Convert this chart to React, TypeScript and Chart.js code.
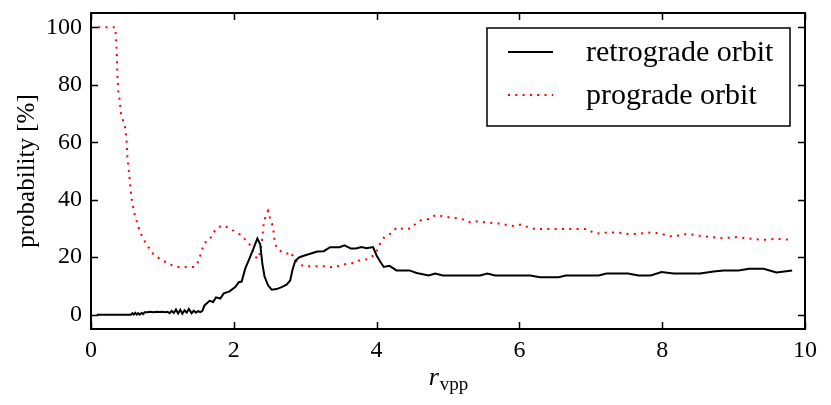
import React, { useEffect, useRef } from "react";
import { Chart, registerables } from "chart.js";
Chart.register(...registerables);

const retroX = [
  0.08, 0.56, 0.58, 0.60, 0.62, 0.64, 0.66, 0.68, 0.71, 0.73, 0.75, 0.79, 0.83, 0.88, 0.92, 0.96, 1.00,
  1.04, 1.07, 1.10, 1.13, 1.16, 1.19, 1.22, 1.25, 1.28, 1.31, 1.34, 1.37, 1.41, 1.44, 1.47, 1.50, 1.53,
  1.56, 1.59, 1.66, 1.71, 1.75, 1.81, 1.86, 1.94, 2.02, 2.07, 2.11, 2.16, 2.23, 2.27, 2.33, 2.37, 2.40,
  2.43, 2.48, 2.53, 2.60, 2.67, 2.74, 2.79, 2.82, 2.86, 2.92, 2.99, 3.07, 3.17, 3.26, 3.35, 3.48, 3.55,
  3.64, 3.71, 3.79, 3.86, 3.95, 4.00, 4.05, 4.10, 4.18, 4.28, 4.46, 4.56, 4.73, 4.82, 4.93, 5.45, 5.55,
  5.66, 6.15, 6.29, 6.55, 6.65, 7.11, 7.22, 7.52, 7.67, 7.84, 7.99, 8.16, 8.53, 8.72, 8.86, 9.07, 9.22,
  9.42, 9.60, 9.82,
];
const retroY = [
  0, 0, 0.5, 0, 0.6, 0, 0.5, 0, 0.6, 0.2, 0.8, 0.8, 1.0, 0.8, 1.0, 0.9, 1.0,
  0.8, 1.0, 0.5, 1.3, 0.6, 1.8, 0.4, 1.7, 0.3, 1.5, 0.7, 2.0, 0.5, 1.4, 0.7, 1.2, 0.9,
  1.3, 3.2, 4.8, 4.4, 6.0, 5.6, 7.4, 8.1, 9.6, 11.3, 11.5, 16.0, 20.2, 22.6, 26.5, 24.5, 17.7,
  13.3, 10.2, 8.7, 8.9, 9.6, 10.4, 11.9, 15.4, 18.7, 20.0, 20.6, 21.2, 22.0, 22.1, 23.5, 23.5, 24.1,
  23.0, 23.0, 23.5, 23.1, 23.5, 20.6, 18.5, 16.6, 17.0, 15.4, 15.4, 14.5, 13.6, 14.3, 13.6, 13.6, 14.3,
  13.6, 13.6, 13.0, 13.0, 13.6, 13.6, 14.3, 14.3, 13.6, 13.6, 14.8, 14.3, 14.3, 15.0, 15.4, 15.4, 16.0,
  16.0, 14.7, 15.4,
];

const proX = [
  0.10, 0.34, 0.36, 0.37, 0.38, 0.40, 0.42, 0.45, 0.48, 0.50, 0.51, 0.53, 0.55, 0.57, 0.61, 0.64, 0.69,
  0.77, 0.87, 0.98, 1.11, 1.19, 1.30, 1.45, 1.51, 1.54, 1.59, 1.66, 1.71, 1.77, 1.84, 1.92, 2.01, 2.09,
  2.16, 2.22, 2.26, 2.31, 2.35, 2.39, 2.42, 2.45, 2.48, 2.51, 2.55, 2.57, 2.60, 2.67, 2.74, 2.80, 2.84,
  2.90, 2.98, 3.30, 3.39, 3.48, 3.58, 3.68, 3.78, 3.88, 3.98, 4.05, 4.11, 4.21, 4.28, 4.38, 4.48, 4.55,
  4.64, 4.73, 4.83, 4.93, 5.03, 5.13, 5.22, 5.31, 5.42, 5.52, 5.62, 5.73, 5.82, 5.93, 6.03, 6.13, 6.22,
  6.94, 7.04, 7.13, 7.23, 7.33, 7.43, 7.53, 7.65, 7.75, 7.84, 7.94, 8.04, 8.14, 8.24, 8.34, 8.43, 8.54,
  8.64, 8.75, 8.85, 8.95, 9.05, 9.15, 9.26, 9.36, 9.47, 9.56, 9.67, 9.77, 9.82,
];
const proY = [
  100, 100, 92, 83, 78, 75, 70, 67.5, 65, 60, 55, 50, 45, 40, 35, 32.5, 28.5,
  24.7, 21.2, 19.1, 17.5, 16.6, 16.6, 16.6, 18.7, 21.5, 25, 26, 28.4, 30.3, 31, 30.3, 29, 27.9,
  26.1, 24.5, 22.4, 20, 19.5, 24.7, 32, 34.6, 36.1, 33.4, 30.5, 25.9, 23.3, 21.8, 21.2, 21.8, 19.5,
  18, 16.8, 16.8, 16.4, 17, 17.7, 18, 19.1, 19.3, 21, 24.9, 27, 28.4, 30.3, 29.8, 30, 31.7,
  33.1, 33.3, 34.7, 34.2, 33.8, 33.6, 33.1, 32.1, 32.5, 32.1, 31.9, 31.7, 31.2, 30.8, 31.4, 30.3, 29.8,
  29.8, 28.5, 28.2, 28.6, 28.6, 28.4, 28.1, 28.1, 28.4, 28.6, 28.3, 27.8, 27.2, 27.6, 28.1, 27.8, 27.4,
  27.1, 26.8, 26.6, 26.8, 27, 26.7, 26.4, 26.1, 26.1, 26.3, 26.3, 26.1, 26.1,
];

const xTicks = [0, 2, 4, 6, 8, 10];
const yTicks = [0, 20, 40, 60, 80, 100];
const seriesLabels = ["retrograde orbit", "prograde orbit"];
const xTitleMain = "r";
const xTitleSub = "vpp";
const yTitle = "probability [%]";

const FONT = '"Liberation Serif", "Times New Roman", serif';

export default function App() {
  const ref = useRef<HTMLCanvasElement>(null);

  useEffect(() => {
    document.body.style.margin = "0";
    const canvas = ref.current;
    if (!canvas) return;

    const decor = {
      id: "decor",
      afterDraw(chart: any) {
        const { ctx, chartArea: a, scales } = chart;
        ctx.save();
        ctx.strokeStyle = "#000";
        // inward ticks on all four sides
        const tl = 7;
        ctx.lineWidth = 1.5;
        ctx.beginPath();
        xTicks.forEach((v) => {
          const px = Math.round(scales.x.getPixelForValue(v)) + 0.5;
          ctx.moveTo(px, a.bottom);
          ctx.lineTo(px, a.bottom - tl);
          ctx.moveTo(px, a.top);
          ctx.lineTo(px, a.top + tl);
        });
        yTicks.forEach((v) => {
          const py = Math.round(scales.y.getPixelForValue(v)) + 0.5;
          ctx.moveTo(a.left, py);
          ctx.lineTo(a.left + tl, py);
          ctx.moveTo(a.right, py);
          ctx.lineTo(a.right - tl, py);
        });
        ctx.stroke();
        // frame
        ctx.lineWidth = 2;
        ctx.strokeRect(a.left, a.top, a.right - a.left, a.bottom - a.top);

        // legend
        const bw = 303;
        const bh = 98;
        const bx = a.right - 15 - bw;
        const by = a.top + 15;
        ctx.fillStyle = "#fff";
        ctx.fillRect(bx, by, bw, bh);
        ctx.lineWidth = 1.5;
        ctx.strokeRect(bx, by, bw, bh);
        ctx.font = `30px ${FONT}`;
        ctx.textBaseline = "middle";
        ctx.textAlign = "left";
        chart.data.datasets.forEach((ds: any, i: number) => {
          const y = by + 24 + i * 43;
          ctx.save();
          ctx.strokeStyle = ds.borderColor;
          ctx.lineWidth = ds.borderWidth;
          ctx.setLineDash(ds.borderDash || []);
          ctx.beginPath();
          ctx.moveTo(bx + 21, y);
          ctx.lineTo(bx + 66, y);
          ctx.stroke();
          ctx.restore();
          ctx.fillStyle = "#000";
          ctx.fillText(ds.label, bx + 99, y + 1);
        });

        // x axis title with subscript
        ctx.fillStyle = "#000";
        ctx.textBaseline = "alphabetic";
        const mainFont = `italic 26px ${FONT}`;
        const subFont = `19px ${FONT}`;
        ctx.font = mainFont;
        const w1 = ctx.measureText(xTitleMain).width;
        ctx.font = subFont;
        const w2 = ctx.measureText(xTitleSub).width;
        const cx = (a.left + a.right) / 2;
        const x0 = cx - (w1 + w2) / 2;
        ctx.font = mainFont;
        ctx.fillText(xTitleMain, x0, 385);
        ctx.font = subFont;
        ctx.fillText(xTitleSub, x0 + w1 + 1, 390);
        ctx.restore();
      },
    };

    const noPad = (axis: any) => {
      axis.paddingLeft = 0;
      axis.paddingRight = 0;
      axis.paddingTop = 0;
      axis.paddingBottom = 0;
    };

    const chart = new Chart(canvas, {
      type: "line",
      data: {
        datasets: [
          {
            label: seriesLabels[0],
            data: retroX.map((x, i) => ({ x, y: retroY[i] })),
            borderColor: "#000000",
            borderWidth: 2,
            pointRadius: 0,
            fill: false,
            tension: 0,
          },
          {
            label: seriesLabels[1],
            data: proX.map((x, i) => ({ x, y: proY[i] })),
            borderColor: "#ff0000",
            borderWidth: 2,
            borderDash: [2, 5.3],
            borderCapStyle: "butt",
            pointRadius: 0,
            fill: false,
            tension: 0,
          },
        ],
      },
      options: {
        animation: false,
        responsive: true,
        maintainAspectRatio: false,
        layout: { padding: { top: 13, right: 26, left: 0, bottom: 0 } },
        plugins: { legend: { display: false }, tooltip: { enabled: false } },
        scales: {
          x: {
            type: "linear",
            min: 0,
            max: 10,
            grid: { display: false, drawTicks: false },
            border: { display: false },
            afterBuildTicks: (axis: any) => {
              axis.ticks = xTicks.map((v) => ({ value: v }));
            },
            afterFit: (axis: any) => {
              axis.height = 76;
              noPad(axis);
            },
            ticks: {
              color: "#000",
              font: { family: FONT, size: 24 },
              padding: 7,
              maxRotation: 0,
              autoSkip: false,
            },
          },
          y: {
            type: "linear",
            min: -5,
            max: 105,
            grid: { display: false, drawTicks: false },
            border: { display: false },
            afterBuildTicks: (axis: any) => {
              axis.ticks = yTicks.map((v) => ({ value: v }));
            },
            afterFit: (axis: any) => {
              axis.width = 91;
              noPad(axis);
            },
            ticks: {
              color: "#000",
              font: { family: FONT, size: 24 },
              padding: 9,
              autoSkip: false,
            },
            title: {
              display: true,
              text: yTitle,
              color: "#000",
              font: { family: FONT, size: 25 },
              padding: { top: 12, bottom: 0 },
            },
          },
        },
      },
      plugins: [decor],
    });

    return () => chart.destroy();
  }, []);

  return (
    <div style={{ width: 831, height: 405, position: "relative" }}>
      <canvas ref={ref} />
    </div>
  );
}
